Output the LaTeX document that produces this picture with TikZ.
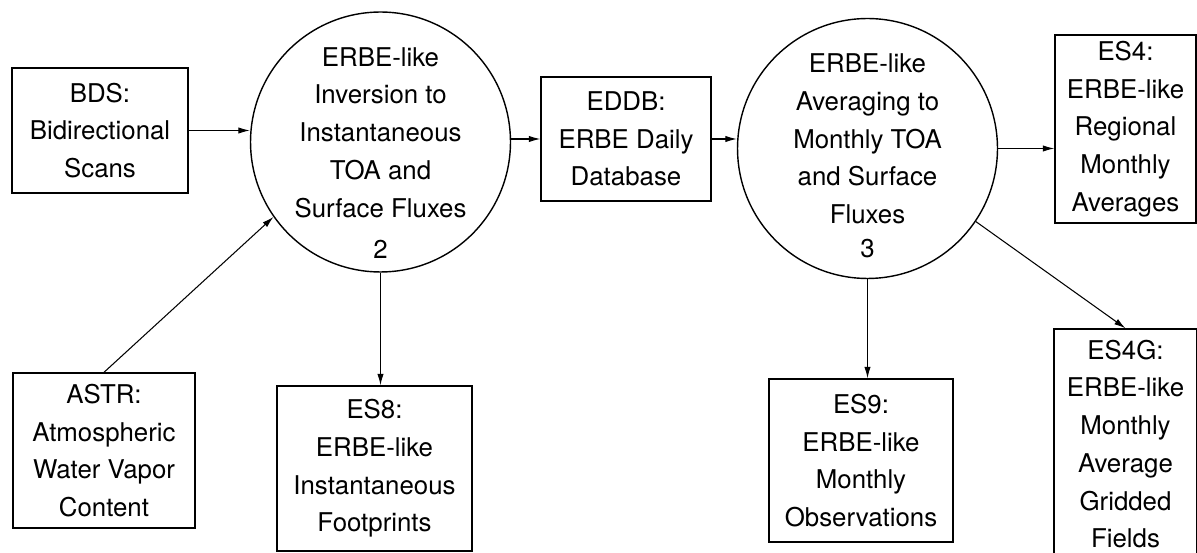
\documentclass[tikz,border=0pt]{standalone}
\usepackage{fontspec}
\setmainfont{TeX Gyre Heros}
\usetikzlibrary{arrows.meta,shapes}

\tikzset{
  store/.style={draw, line width=0.8pt, align=center, inner sep=0pt,
    font=\fontsize{14.7}{21.5}\selectfont},
  proc/.style={draw, circle, line width=0.8pt, minimum size=5.2cm, inner sep=0pt},
  proctext/.style={align=center, inner sep=0pt, font=\fontsize{14.7}{21.5}\selectfont},
  flow/.style={line width=0.6pt, -{Latex[length=6.5pt,width=3.6pt]}}
}

\begin{document}
\begin{tikzpicture}[x=0.02cm,y=-0.02cm]
\useasboundingbox (0,0) rectangle (1197,553);
\node[store, minimum width=3.52cm, minimum height=2.5cm] (bds) at (100,130.5) {BDS:\\Bidirectional\\Scans};
\node[store, minimum width=3.64cm, minimum height=3.1cm] (astr) at (104,450.5) {ASTR:\\Atmospheric\\Water Vapor\\Content};
\node[proc] (inv) at (380.5,142) {};
\node[proctext] (invtext) at (380.5,153) {ERBE-like\\Inversion to\\Instantaneous\\TOA and\\Surface Fluxes\\[2pt]2};
\node[store, minimum width=3.9cm, minimum height=3.3cm] (es8) at (374.5,468.5) {ES8:\\ERBE-like\\Instantaneous\\Footprints};
\node[store, minimum width=3.4cm, minimum height=2.48cm] (eddb) at (626,139) {EDDB:\\ERBE Daily\\Database};
\node[proc] (avg) at (867.5,148.5) {};
\node[proctext] (avgtext) at (867.5,156) {ERBE-like\\Averaging to\\Monthly TOA\\and Surface\\Fluxes\\[-2pt]3};
\node[store, minimum width=3.68cm, minimum height=3.26cm] (es9) at (861,460.5) {ES9:\\ERBE-like\\Monthly\\Observations};
\node[store, minimum width=2.82cm, minimum height=3.76cm] (es4) at (1125.5,129) {ES4:\\ERBE-like\\Regional\\Monthly\\Averages};
\node[store, minimum width=2.86cm, minimum height=4.6cm] (es4g) at (1125.5,444) {ES4G:\\ERBE-like\\Monthly\\Average\\Gridded\\Fields};
\draw[flow] (bds.east) -- (bds.east -| inv.west);
\draw[flow] (astr.north) -- (inv.215);
\draw[flow] (inv.south) -- (inv.south |- es8.north);
\draw[flow] (inv.east |- eddb.west) -- (eddb.west);
\draw[flow] (eddb.east) -- (eddb.east -| avg.west);
\draw[flow] (avg.east) -- (avg.east -| es4.west);
\draw[flow] (avg.south) -- (avg.south |- es9.north);
\draw[flow] (avg.-34) -- (es4g.north);
\end{tikzpicture}
\end{document}
